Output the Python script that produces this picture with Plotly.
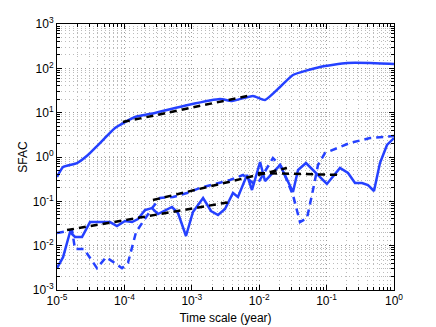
import plotly.graph_objects as go

# top solid curve
top_x = [1.0e-5, 1.23e-5, 1.98e-5, 2.88e-5, 4.06e-5, 7.26e-5, 1.02e-4, 1.44e-4, 2.84e-4,
         8.79e-4, 2.62e-3, 3.94e-3, 8.09e-3, 1.22e-2, 2.04e-2, 3.17e-2, 7.97e-2, 0.201, 0.441, 1.0]
top_y = [0.354, 0.594, 0.731, 1.11, 1.86, 4.51, 6.15, 7.98, 9.84,
         14.9, 20.3, 18.3, 23.8, 19.3, 37.9, 70.8, 107, 132, 132, 126]

# middle dashed curve
mid_x = [1.0e-5, 1.67e-5, 1.85e-5, 2.52e-5, 3.92e-5, 5.33e-5, 7.5e-5, 9.2e-5, 1.13e-4, 1.49e-4,
         2.65e-4, 3.37e-4, 5.26e-4, 8.5e-4, 1.32e-3, 2.37e-3, 3.69e-3, 5.75e-3, 8.09e-3, 9.6e-3,
         1.60e-2, 2.10e-2, 3.17e-2, 4.03e-2, 5.12e-2, 6.28e-2, 7.45e-2, 9.46e-2, 0.222, 0.441, 1.0]
mid_y = [0.0193, 0.0225, 0.0084, 0.0084, 0.0031, 0.0055, 0.0039, 0.0031, 0.0041, 0.0203,
         0.0745, 0.119, 0.125, 0.154, 0.200, 0.259, 0.303, 0.393, 0.259, 0.259,
         0.948, 0.627, 0.139, 0.034, 0.042, 0.180, 0.659, 1.23, 2.07, 2.68, 2.98]

# bottom solid curve
bot_x = [1.0e-5, 1.23e-5, 1.56e-5, 1.85e-5, 2.35e-5, 3.09e-5, 6.11e-5, 7.76e-5, 1.02e-4, 1.30e-4,
         1.59e-4, 2.02e-4, 2.56e-4, 3.15e-4, 5.08e-4, 6.24e-4, 8.2e-4, 1.04e-3, 1.47e-3, 1.93e-3,
         2.45e-3, 3.11e-3, 4.08e-3, 4.84e-3, 6.59e-3, 7.82e-3, 1.03e-2, 1.22e-2, 2.04e-2, 3.17e-2,
         3.77e-2, 4.94e-2, 0.101, 0.158, 0.208, 0.264, 0.335, 0.411, 0.505, 0.619, 0.787, 1.0]
bot_y = [0.0031, 0.0055, 0.0203, 0.0157, 0.0157, 0.0341, 0.0341, 0.0277, 0.0360, 0.0341,
         0.0399, 0.0637, 0.0706, 0.0518, 0.0745, 0.0545, 0.0165, 0.0574, 0.119, 0.0605,
         0.0491, 0.0671, 0.154, 0.125, 0.393, 0.180, 0.771, 0.287, 0.659, 0.162,
         0.508, 0.731, 0.246, 0.565, 0.436, 0.259, 0.259, 0.233, 0.171, 0.731, 1.87, 2.68]

# power-law fits (black dashed)
fits = [
    ([9.5e-5, 7.8e-3], [6.15, 25.0]),
    ([1.41e-5, 3.69e-3], [0.0225, 0.0966]),
    ([2.65e-4, 2.58e-2], [0.107, 0.565]),
    ([9.6e-3, 0.169], [0.436, 0.393]),
]

x_ticks = [1e-5, 1e-4, 1e-3, 1e-2, 1e-1, 1e0]
x_labels = ["10<sup>-5</sup>", "10<sup>-4</sup>", "10<sup>-3</sup>", "10<sup>-2</sup>",
            "10<sup>-1</sup>", "10<sup>0</sup>"]
y_ticks = [1e-3, 1e-2, 1e-1, 1e0, 1e1, 1e2, 1e3]
y_labels = ["10<sup>-3</sup>", "10<sup>-2</sup>", "10<sup>-1</sup>", "10<sup>0</sup>",
            "10<sup>1</sup>", "10<sup>2</sup>", "10<sup>3</sup>"]

BLUE = "#2541ff"
FONT = "Liberation Sans, Arial, sans-serif"

fig = go.Figure()
fig.add_trace(go.Scatter(x=top_x, y=top_y, mode="lines",
                         line=dict(color=BLUE, width=2.5, shape="spline", smoothing=0.5)))
fig.add_trace(go.Scatter(x=mid_x, y=mid_y, mode="lines",
                         line=dict(color=BLUE, width=2.5, dash="7px,5px")))
fig.add_trace(go.Scatter(x=bot_x, y=bot_y, mode="lines",
                         line=dict(color=BLUE, width=2.5)))
for fx, fy in fits:
    fig.add_trace(go.Scatter(x=fx, y=fy, mode="lines",
                             line=dict(color="black", width=2.5, dash="7px,5px")))


def minor_vals(lo, hi):
    return [m * 10.0 ** e for e in range(lo, hi) for m in range(2, 10)]


axis_common = dict(
    type="log",
    automargin=False,
    showline=True, linecolor="black", linewidth=1, mirror="allticks",
    ticks="inside", ticklen=5, tickcolor="black",
    showgrid=True, gridcolor="#999999", griddash="1px,3px", gridwidth=1,
    zeroline=False,
    tickfont=dict(family=FONT, size=12, color="black"),
)

fig.update_xaxes(
    **axis_common,
    range=[-5, 0],
    tickmode="array", tickvals=x_ticks, ticktext=x_labels,
    minor=dict(tickmode="array", tickvals=minor_vals(-5, 0), ticks="inside", ticklen=3,
               tickcolor="black", showgrid=True, gridcolor="#bbbbbb", griddash="1px,3px"),
    title=dict(text="Time scale (year)", font=dict(family=FONT, size=12, color="black"),
               standoff=6),
)
fig.update_yaxes(
    **axis_common,
    range=[-3, 3],
    tickmode="array", tickvals=y_ticks, ticktext=y_labels,
    minor=dict(tickmode="array", tickvals=minor_vals(-3, 3), ticks="inside", ticklen=3,
               tickcolor="black", showgrid=True, gridcolor="#bbbbbb", griddash="1px,3px"),
    title=dict(text="SFAC", font=dict(family=FONT, size=12, color="black"), standoff=2),
)

# page body has an 8px margin, so the figure is shrunk to sit at the same place
fig.update_layout(
    width=428, height=319,
    showlegend=False,
    plot_bgcolor="white", paper_bgcolor="white",
    margin=dict(l=49, r=42, t=16, b=37),
)

fig.write_html("out.html")
